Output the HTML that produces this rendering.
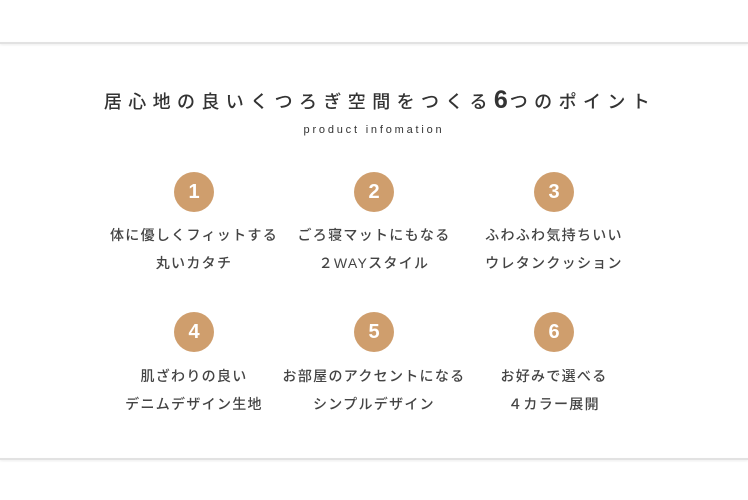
<!DOCTYPE html>
<html><head><meta charset="utf-8"><style>
body{margin:0;width:748px;height:500px;background:#fff;position:relative;overflow:hidden;font-family:"Liberation Sans","Noto Sans CJK JP",sans-serif;color:#444}
.line{position:absolute;left:0;width:748px;height:2px;background:#e2e2e2;box-shadow:0 1px 2px rgba(0,0,0,.08)}
.t{position:absolute;left:0;width:748px;text-align:center;white-space:nowrap}
.c{position:absolute;width:40px;height:40px;border-radius:50%;background:#cf9e6d;color:#fff;font-weight:bold;font-size:20px;line-height:40px;text-align:center}
.x{position:absolute;width:200px;text-align:center;font-size:14px;letter-spacing:1.3px;line-height:28px;white-space:nowrap;font-weight:500}
</style></head><body>
<div class="line" style="top:42px"></div>
<div class="line" style="top:458px"></div>
<div class="t" style="top:86px;font-size:18px;letter-spacing:6.4px;color:#333;padding-left:6px;font-weight:500">居心地の良いくつろぎ空間をつくる<b style="font-size:25px;letter-spacing:2px">6</b>つのポイント</div>
<div class="t" style="top:124px;font-size:11px;letter-spacing:2.8px;color:#333">product infomation</div>
<div class="c" style="left:174px;top:172px">1</div>
<div class="c" style="left:354px;top:172px">2</div>
<div class="c" style="left:534px;top:172px">3</div>
<div class="c" style="left:174px;top:312px">4</div>
<div class="c" style="left:354px;top:312px">5</div>
<div class="c" style="left:534px;top:312px">6</div>
<div class="x" style="left:94px;top:221px">体に優しくフィットする<br>丸いカタチ</div>
<div class="x" style="left:274px;top:221px">ごろ寝マットにもなる<br>２WAYスタイル</div>
<div class="x" style="left:454px;top:221px">ふわふわ気持ちいい<br>ウレタンクッション</div>
<div class="x" style="left:94px;top:362px">肌ざわりの良い<br>デニムデザイン生地</div>
<div class="x" style="left:274px;top:362px">お部屋のアクセントになる<br>シンプルデザイン</div>
<div class="x" style="left:454px;top:362px">お好みで選べる<br>４カラー展開</div>
</body></html>
